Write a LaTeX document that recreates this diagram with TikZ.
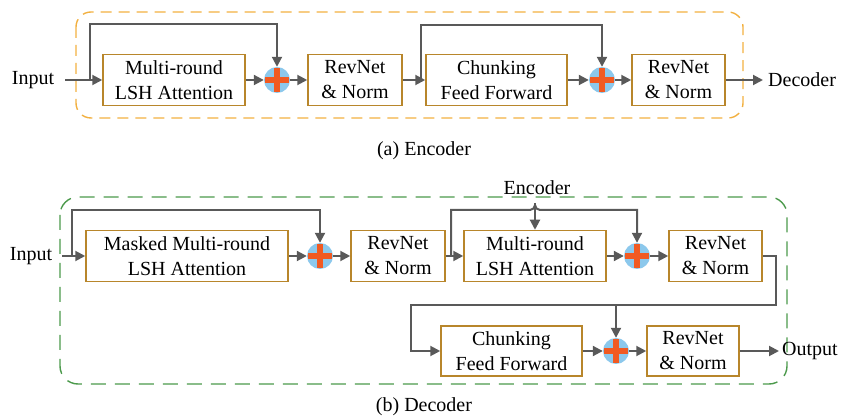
\documentclass[tikz,border=0pt]{standalone}
\usepackage{fontspec}
\setmainfont{Liberation Serif}
\usetikzlibrary{arrows.meta}
\definecolor{boxc}{HTML}{B8862B}
\definecolor{linec}{HTML}{595959}
\definecolor{plusbg}{HTML}{8CC8EC}
\definecolor{plusfg}{HTML}{F15A22}
\definecolor{encc}{HTML}{F2B040}
\definecolor{decc}{HTML}{4C9A4C}
\tikzset{
  blk/.style={draw=boxc, line width=1.5pt, fill=white, minimum height=51pt, inner sep=0pt, align=center, font=\fontsize{20}{25}\selectfont},
  lbl/.style={inner sep=0pt, font=\fontsize{20}{24}\selectfont},
  plusnode/.style={circle, fill=plusbg, minimum size=26pt, inner sep=0pt,
    path picture={
      \fill[plusfg] ([xshift=-12pt,yshift=-2.8pt]path picture bounding box.center) rectangle ([xshift=12pt,yshift=2.8pt]path picture bounding box.center);
      \fill[plusfg] ([xshift=-2.8pt,yshift=-12pt]path picture bounding box.center) rectangle ([xshift=2.8pt,yshift=12pt]path picture bounding box.center);
    }},
  conn/.style={draw=linec, line width=2pt, -{Triangle[length=10pt,width=10pt]}},
  line/.style={draw=linec, line width=2pt},
  encbox/.style={draw=encc, line width=1.4pt, dash pattern=on 11pt off 7pt, rounded corners=15pt},
  decbox/.style={draw=decc, line width=1.4pt, dash pattern=on 15pt off 9pt, rounded corners=18pt},
}
\begin{document}
\begin{tikzpicture}[x=1pt,y=-1pt]
\useasboundingbox (0,0) rectangle (841,419);
% ---------------- Encoder ----------------
\draw[encbox] (76,12) rectangle (743,118);
\node[lbl] (ein) at (33,80) {Input};
\node[blk, minimum width=142pt] (eb1) at (174,80) {Multi-round\\LSH Attention};
\node[plusnode] (ep1) at (277,80) {};
\node[blk, minimum width=94pt] (eb2) at (355,80) {RevNet\\\&~Norm};
\node[blk, minimum width=141pt] (eb3) at (496.5,80) {Chunking\\Feed Forward};
\node[plusnode] (ep2) at (602,80) {};
\node[blk, minimum width=93pt] (eb4) at (678.5,80) {RevNet\\\&~Norm};
\node[lbl, anchor=west] (eout) at (768,80) {Decoder};
\coordinate (es1) at (90,80);
\coordinate (es2) at (421,80);
\coordinate (einr) at (65,80);
\draw[conn] (einr) -- (eb1.west);
\draw[conn] (eb1.east) -- (ep1.west);
\draw[conn] (ep1.east) -- (eb2.west);
\draw[conn] (eb2.east) -- (eb3.west);
\draw[conn] (eb3.east) -- (ep2.west);
\draw[conn] (ep2.east) -- (eb4.west);
\draw[conn] (eb4.east) -- ([xshift=-5pt]eout.west);
\draw[conn] (es1) |- (277,24) -- (ep1.north);
\draw[conn] (es2) |- (602,25) -- (ep2.north);
\node[lbl] (capa) at (424,151) {(a) Encoder};
% ---------------- Decoder ----------------
\draw[decbox] (60,197) rectangle (787,384);
\node[lbl] (din) at (31,256) {Input};
\node[blk, minimum width=202pt] (db1) at (187,256) {Masked Multi-round\\LSH Attention};
\node[plusnode] (dp1) at (320,256) {};
\node[blk, minimum width=94pt] (db2) at (398,256) {RevNet\\\&~Norm};
\node[blk, minimum width=142pt] (db3) at (535,256) {Multi-round\\LSH Attention};
\node[plusnode] (dp2) at (637,256) {};
\node[blk, minimum width=93pt] (db4) at (715.5,256) {RevNet\\\&~Norm};
\node[blk, minimum width=141pt, minimum height=50pt] (db5) at (511.5,351) {Chunking\\Feed Forward};
\node[plusnode] (dp3) at (616,351) {};
\node[blk, minimum width=92pt, minimum height=50pt] (db6) at (693,351) {RevNet\\\&~Norm};
\node[lbl, anchor=west] (dout) at (782,351) {Output};
\node[lbl] (denc) at (537,188) {Encoder};
\coordinate (ds1) at (72,256);
\coordinate (ds2) at (451,256);
\coordinate (dj) at (535,203);
\coordinate (dr) at (616,305);
\coordinate (dinr) at (62,256);
\draw[conn] (dinr) -- (db1.west);
\draw[conn] (db1.east) -- (dp1.west);
\draw[conn] (dp1.east) -- (db2.west);
\draw[conn] (db2.east) -- (db3.west);
\draw[conn] (db3.east) -- (dp2.west);
\draw[conn] (dp2.east) -- (db4.west);
\draw[conn] (ds1) |- (320,210) -- (dp1.north);
\draw[line] (ds2) |- (530,210) to[out=0,in=-90] (535,205);
\draw[conn] (535,205) to[out=-90,in=180] (540,210) -| (dp2.north);
\draw[conn] (dj) -- (db3.north);
\draw[conn] (db4.east) -| (776,305) -| (411,351) -- (db5.west);
\draw[conn] (dr) -- (dp3.north);
\draw[conn] (db5.east) -- (dp3.west);
\draw[conn] (dp3.east) -- (db6.west);
\draw[conn] (db6.east) -- ([xshift=-3pt]dout.west);
\node[lbl] (capb) at (424,407) {(b) Decoder};
\end{tikzpicture}
\end{document}
